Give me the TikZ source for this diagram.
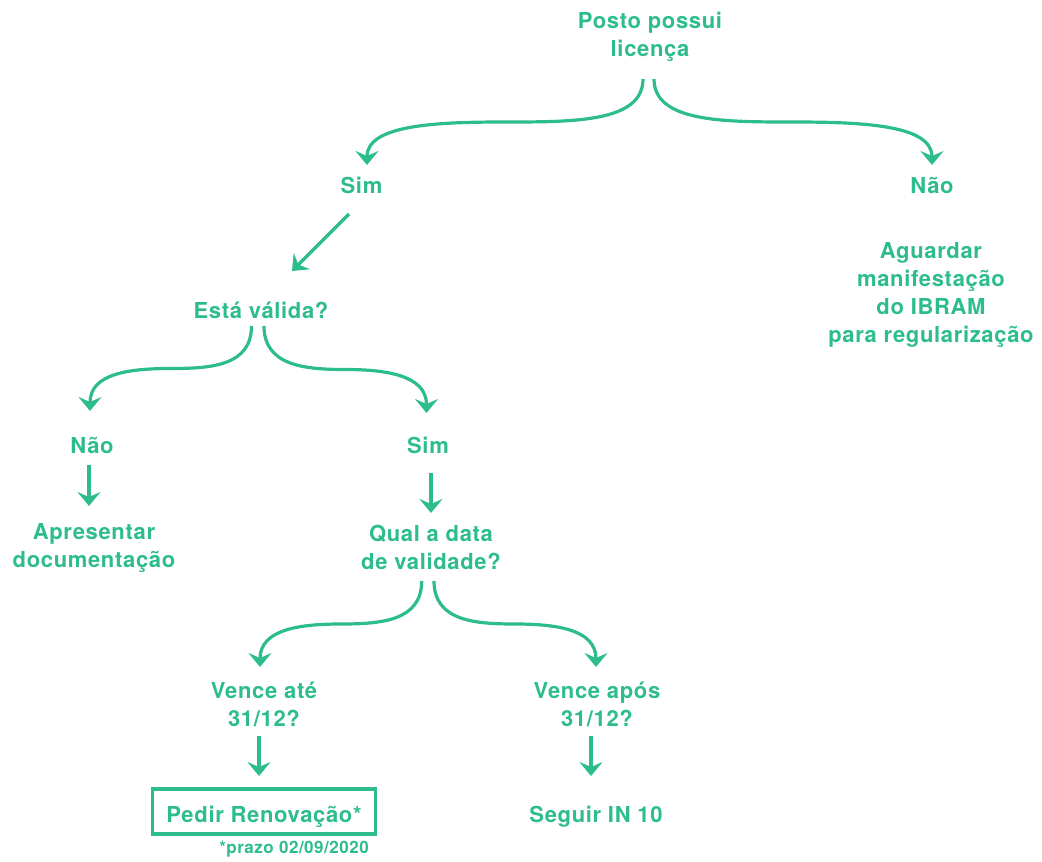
\documentclass[tikz,border=0pt]{standalone}
\usepackage{fontspec}
\setmainfont{TeX Gyre Heros}[LetterSpace=3]
\usetikzlibrary{arrows.meta,calc}
\definecolor{grn}{HTML}{2DBD8A}
\begin{document}
\begin{tikzpicture}[x=1pt,y=-1pt,
  lbl/.style={text=grn, font=\bfseries\fontsize{22}{28}\selectfont, inner sep=0pt, align=center, anchor=base},
  small/.style={text=grn, font=\bfseries\fontsize{17}{20}\selectfont, inner sep=0pt, anchor=base},
  boxed/.style={draw=grn, line width=3.2pt, minimum width=222.8pt, minimum height=45pt, text=grn,
    font=\bfseries\fontsize{22}{28}\selectfont, inner sep=0pt, text height=21pt, text depth=0pt},
  conn/.style={draw=grn, line width=3.2pt, -{Stealth[length=14pt, width=23pt, inset=5pt]}}
]
\useasboundingbox (0,0) rectangle (1042,862);

% multi-line nodes are placed by the baseline of their last line
\node[lbl] (posto) at (650,56.5) {Posto possui\\licença};
\node[lbl] (simA) at (361.5,193) {Sim};
\node[lbl] (naoA) at (932,193) {Não};
\node[lbl] (aguardar) at (931,342) {Aguardar\\manifestação\\do IBRAM\\para regularização};
\node[lbl] (esta) at (261,318) {Está válida?};
\node[lbl] (naoB) at (92,453) {Não};
\node[lbl] (simB) at (428,453) {Sim};
\node[lbl] (apresentar) at (94,567) {Apresentar\\documentação};
\node[lbl] (qual) at (431,569.5) {Qual a data\\de validade?};
\node[lbl] (venceAte) at (264,726) {Vence até\\31/12?};
\node[lbl] (venceApos) at (597,726) {Vence após\\31/12?};
\node[boxed] (pedir) at (264,811.5) {Pedir Renovação*};
\node[small] (prazo) at (294,853) {*prazo 02/09/2020};
\node[lbl] (seguir) at (596,822) {Seguir IN 10};

% curved branches
\draw[conn] ($(posto.base)+(-7,22.5)$) .. controls +(0,43) and +(70,0) .. ($(posto.base)!0.5!(simA.base)+(-0.75,-2.75)$) .. controls +(-70,0) and +(0,-40) .. ($(simA.base)+(5.5,-28)$);
\draw[conn] ($(posto.base)+(4,22.5)$) .. controls +(0,43) and +(-70,0) .. ($(posto.base)!0.5!(naoA.base)+(2,-2.75)$) .. controls +(70,0) and +(0,-40) .. ($(naoA.base)+(0,-28)$);
\draw[conn] ($(esta.base)+(-9.5,8)$) .. controls +(0,40) and +(40,0) .. ($(esta.base)!0.5!(naoB.base)+(-5.75,-17)$) .. controls +(-40,0) and +(0,-38) .. ($(naoB.base)+(-2,-42)$);
\draw[conn] ($(esta.base)+(3,8)$) .. controls +(0,40) and +(-40,0) .. ($(esta.base)!0.5!(simB.base)+(0.75,-16)$) .. controls +(40,0) and +(0,-38) .. ($(simB.base)+(-1.5,-40)$);
\draw[conn] ($(qual.base)+(-9.3,11.5)$) .. controls +(0,40) and +(40,0) .. ($(qual.base)!0.5!(venceAte.base)+(-6.65,-23.75)$) .. controls +(-40,0) and +(0,-38) .. ($(venceAte.base)+(-4,-59)$);
\draw[conn] ($(qual.base)+(3,11.5)$) .. controls +(0,40) and +(-40,0) .. ($(qual.base)!0.5!(venceApos.base)+(1,-23.75)$) .. controls +(40,0) and +(0,-38) .. ($(venceApos.base)+(-1,-59)$);

% straight arrows
\draw[conn] ($(simA.base)+(-12.5,21)$) -- ($(esta.base)+(31,-47)$);
\draw[conn] ($(naoB.base)+(-3,12)$) -- ($(apresentar.base)+(-5,-61)$);
\draw[conn] ($(simB.base)+(3,20)$) -- ($(qual.base)+(0,-56.5)$);
\draw[conn] ($(venceAte.base)+(-5,10)$) -- ($(pedir.center)+(-5,-35.5)$);
\draw[conn] ($(venceApos.base)+(-6,10)$) -- ($(seguir.base)+(-5,-46)$);
\end{tikzpicture}
\end{document}
